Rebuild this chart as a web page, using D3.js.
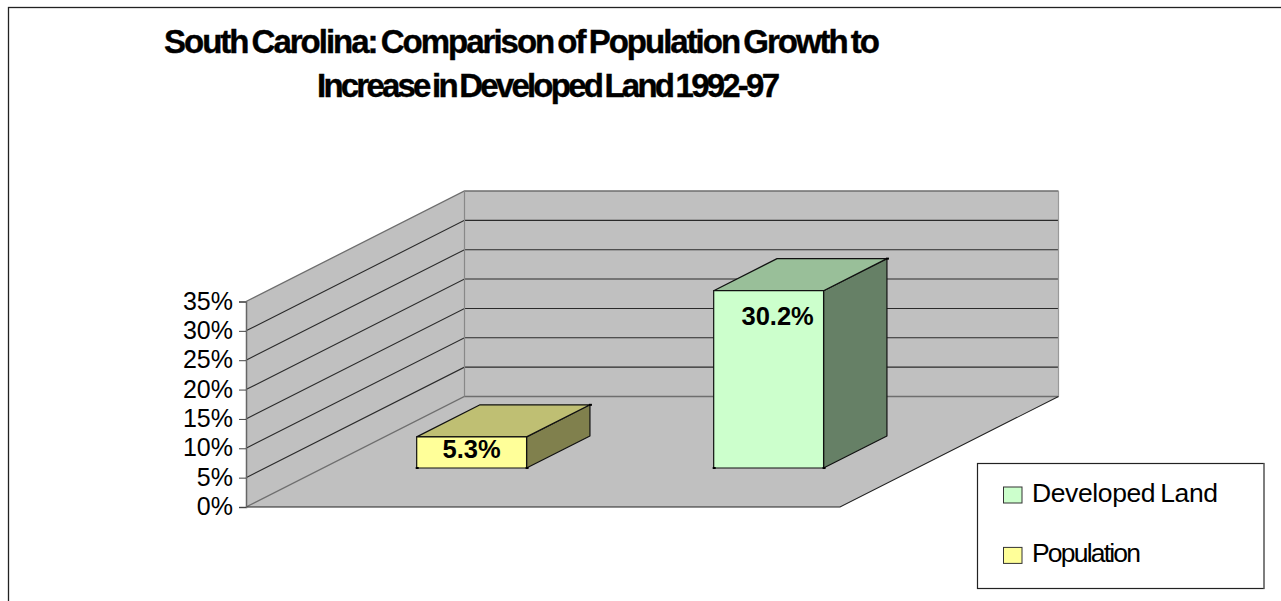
<!DOCTYPE html>
<html>
<head>
  <title>South Carolina</title>
  <script src="https://d3js.org/d3.v7.min.js"></script>
  <style>
    html, body { margin: 0; padding: 0; background: #fff; overflow: hidden; }
    svg { display: block; }
    text { font-family: "Liberation Sans", Arial, sans-serif; fill: #000; }
  </style>
</head>
<body>
<script>
  var categories = ["Population", "Developed Land"];
  var values = [5.3, 30.2];
  var barColors = ["#ffff99", "#ccffcc"];
  var topColors = ["#bfbf73", "#99bf99"];
  var sideColors = ["#80804d", "#668066"];
  var yTicks = [0, 5, 10, 15, 20, 25, 30, 35];
  var titleLines = ["South Carolina: Comparison of Population Growth to", "Increase in Developed Land 1992-97"];
  var legendNames = ["Developed Land", "Population"];
  var legendColors = ["#ccffcc", "#ffff99"];

  var canvas = d3.select("body").append("svg").attr("width", 1281).attr("height", 601);

  // outer frame
  canvas.append("rect").attr("x", 8.5).attr("y", 7.5).attr("width", 1400).attr("height", 700)
    .attr("fill", "#fff").attr("stroke", "#222").attr("stroke-width", 1.3);

  // title
  canvas.selectAll(".title").data(titleLines).enter().append("text")
    .attr("class", "title")
    .attr("x", function(d, i){ return i === 0 ? 164 : 317; })
    .attr("y", function(d, i){ return i === 0 ? 53 : 97; })
    .attr("font-size", 33).attr("font-weight", "bold")
    .attr("word-spacing", -3)
    .attr("stroke", "#000").attr("stroke-width", 0.4)
    .attr("textLength", function(d, i){ return i === 0 ? 716 : 463; })
    .attr("lengthAdjust", "spacing")
    .text(function(d){ return d; });

  // projection: v = value, t = position along the floor, z = depth 0..1
  var y = d3.scaleLinear().domain([0, 35]).range([507, 301.5]);
  var x = d3.scaleBand().domain(categories).range([246, 840]).paddingInner(0.63).paddingOuter(0.315);
  var depthX = d3.scaleLinear().domain([0, 1]).range([0, 218.5]);
  var depthY = d3.scaleLinear().domain([0, 1]).range([0, -110.5]);
  function pt(px, v, z){ return [px + depthX(z), y(v) + depthY(z)]; }
  var poly = d3.line();
  var floorRight = x.range()[1];
  var left = x.range()[0];
  var maxV = y.domain()[1];

  // floor and walls
  canvas.append("path").attr("d", poly([pt(left,0,0), pt(floorRight,0,0), pt(floorRight,0,1), pt(left,0,1)]) + "Z")
    .attr("fill", "#c0c0c0");
  canvas.append("path").attr("d", poly([pt(left,0,0), pt(left,0,1), pt(left,maxV,1), pt(left,maxV,0)]) + "Z")
    .attr("fill", "#c0c0c0");
  canvas.append("path").attr("d", poly([pt(left,0,1), pt(floorRight,0,1), pt(floorRight,maxV,1), pt(left,maxV,1)]) + "Z")
    .attr("fill", "#c0c0c0");

  // gridlines along side and back wall
  yTicks.forEach(function(t){
    var edge = (t === 0 || t === maxV);
    canvas.append("path").attr("fill", "none")
      .attr("stroke", edge ? "#6e6e6e" : "#2a2a2a").attr("stroke-width", edge ? 1.3 : 1.1)
      .attr("d", poly([pt(left,t,0), pt(left,t,1), pt(floorRight,t,1)]));
  });
  canvas.append("path").attr("fill", "none").attr("stroke", "#888").attr("stroke-width", 1.2)
    .attr("d", poly([pt(left,0,1), pt(left,maxV,1)]));
  canvas.append("path").attr("fill", "none").attr("stroke", "#999").attr("stroke-width", 1.2)
    .attr("d", poly([pt(floorRight,0,1), pt(floorRight,maxV,1)]));

  // floor front and right edge
  canvas.append("path").attr("fill", "none").attr("stroke", "#222").attr("stroke-width", 1.1)
    .attr("d", poly([pt(left,0,0), pt(floorRight,0,0), pt(floorRight,0,1)]));

  // y axis
  var yAxis = d3.axisLeft(y).tickValues(yTicks).tickSize(7).tickPadding(6)
    .tickFormat(function(d){ return d + "%"; });
  var axisG = canvas.append("g").attr("transform", "translate(246,0)").call(yAxis);
  axisG.select(".domain").attr("stroke", "#666").attr("stroke-width", 1.5);
  axisG.selectAll(".tick line").attr("stroke", "#444");
  axisG.selectAll("text").attr("font-size", 25).attr("font-family", "Liberation Sans").attr("fill", "#000").attr("dy", "0.3em");

  // bars
  var zFront = 0.353, zBack = 0.643;
  categories.forEach(function(c, i){
    var x0 = x(c), x1 = x(c) + x.bandwidth(), v = values[i];
    var g = canvas.append("g").attr("stroke", "#111").attr("stroke-width", 1.2).attr("stroke-linejoin", "round");
    g.append("path").attr("fill", sideColors[i])
      .attr("d", poly([pt(x1,0,zFront), pt(x1,0,zBack), pt(x1,v,zBack), pt(x1,v,zFront)]) + "Z");
    g.append("path").attr("fill", topColors[i])
      .attr("d", poly([pt(x0,v,zFront), pt(x1,v,zFront), pt(x1,v,zBack), pt(x0,v,zBack)]) + "Z");
    g.append("path").attr("fill", barColors[i])
      .attr("d", poly([pt(x0,0,zFront), pt(x1,0,zFront), pt(x1,v,zFront), pt(x0,v,zFront)]) + "Z");
    // small corner marks left by the original renderer
    [pt(x0,0,zFront), pt(x1,0,zFront), pt(x1,v,zBack)].forEach(function(p){
      canvas.append("rect").attr("x", p[0] - 1).attr("y", p[1] - 1).attr("width", 3).attr("height", 2).attr("fill", "#000");
    });
  });

  // data labels
  categories.forEach(function(c, i){
    var p = pt(x(c) + x.bandwidth() / 2, values[i], zFront);
    canvas.append("text")
      .attr("x", i === 0 ? p[0] + 0 : p[0] + 9)
      .attr("y", i === 0 ? p[1] + 21 : p[1] + 34)
      .attr("text-anchor", "middle")
      .attr("font-size", 25.5).attr("font-weight", "bold")
      .text(values[i].toFixed(1) + "%");
  });

  // legend
  canvas.append("rect").attr("x", 977.5).attr("y", 463.5).attr("width", 286.5).attr("height", 125)
    .attr("fill", "#fff").attr("stroke", "#222").attr("stroke-width", 1.2);
  canvas.append("line").attr("x1", 1264).attr("x2", 1264).attr("y1", 463.5).attr("y2", 588.5)
    .attr("stroke", "#808080").attr("stroke-width", 1.4);
  var legendY = d3.scalePoint().domain(legendNames).range([495, 555.4]);
  legendNames.forEach(function(n, i){
    canvas.append("rect").attr("x", 1003.5).attr("y", legendY(n) - 8).attr("width", 18.5).attr("height", 16)
      .attr("fill", legendColors[i]).attr("stroke", "#333").attr("stroke-width", 1);
    canvas.append("text").attr("x", 1032).attr("y", legendY(n) + 7)
      .attr("font-size", 26.5)
      .attr("word-spacing", -2)
      .attr("textLength", i === 0 ? 186 : 109)
      .attr("lengthAdjust", "spacing")
      .text(n);
  });
</script>
</body>
</html>
